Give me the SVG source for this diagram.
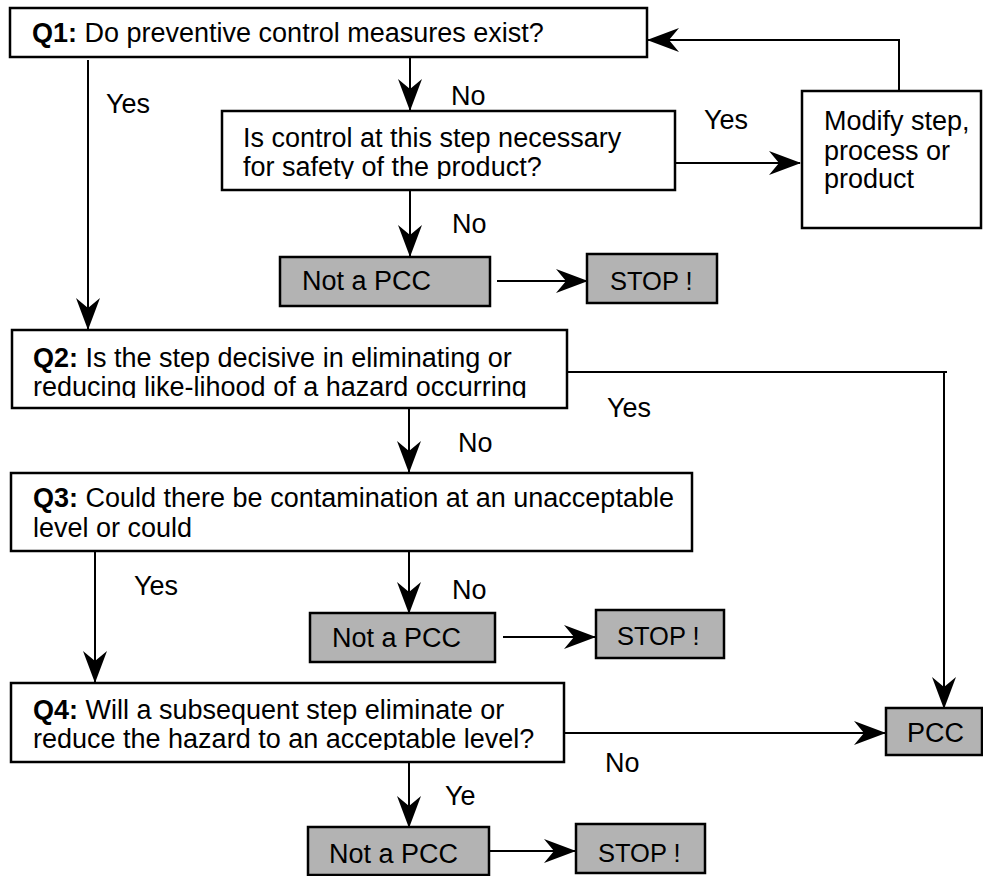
<svg xmlns="http://www.w3.org/2000/svg" width="983" height="876" viewBox="0 0 983 876">
<style>
  .box{fill:#ffffff;stroke:#000;stroke-width:2.5}
  .gray{fill:#b3b3b3;stroke:#000;stroke-width:2.5}
  .t{font-family:"Liberation Sans",Arial,sans-serif;font-size:27px;fill:#000}
  .s{font-size:25.5px}
  .b{font-weight:bold}
  .c{fill:none;stroke:#000;stroke-width:2}
</style>
<defs>
  <marker id="ah" markerUnits="userSpaceOnUse" viewBox="0 0 32 24" markerWidth="32" markerHeight="24" refX="31" refY="12" orient="auto">
    <path d="M0,0 L32,12 L0,24 L10,12 Z" fill="#000"/>
  </marker>
  <clipPath id="clipB2"><rect x="222" y="111" width="453" height="68"/></clipPath>
  <clipPath id="clipQ2"><rect x="12" y="330" width="555" height="68"/></clipPath>
  <clipPath id="clipQ4"><rect x="11" y="683" width="553" height="67"/></clipPath>
</defs>
<rect width="983" height="876" fill="#fff"/>

<g id="connectors">
  <path class="c" d="M410,57 V110" marker-end="url(#ah)"/>
  <path class="c" d="M88,60 V329" marker-end="url(#ah)"/>
  <path class="c" d="M675,163 H800" marker-end="url(#ah)"/>
  <path class="c" d="M899,91 V40 H648" marker-end="url(#ah)"/>
  <path class="c" d="M410,190 V256" marker-end="url(#ah)"/>
  <path class="c" d="M497,281 H587" marker-end="url(#ah)"/>
  <path class="c" d="M567,372 H947 M944,372 V708" marker-end="url(#ah)"/>
  <path class="c" d="M409,408 V472" marker-end="url(#ah)"/>
  <path class="c" d="M95,551 V682" marker-end="url(#ah)"/>
  <path class="c" d="M409,551 V613" marker-end="url(#ah)"/>
  <path class="c" d="M503,637 H595" marker-end="url(#ah)"/>
  <path class="c" d="M564,733 H885" marker-end="url(#ah)"/>
  <path class="c" d="M409,762 V827" marker-end="url(#ah)"/>
  <path class="c" d="M490,851 H575" marker-end="url(#ah)"/>
  <g class="t">
    <text x="106" y="113">Yes</text>
    <text x="451" y="105">No</text>
    <text x="704" y="129">Yes</text>
    <text x="452" y="233">No</text>
    <text x="607" y="417">Yes</text>
    <text x="458" y="452">No</text>
    <text x="134" y="595">Yes</text>
    <text x="452" y="599">No</text>
    <text x="605" y="772">No</text>
    <text x="445" y="805">Ye</text>
  </g>
</g>

<g id="q1">
  <rect class="box" x="10" y="8" width="637" height="49"/>
  <text class="t" x="32" y="42"><tspan class="b">Q1:</tspan> Do preventive control measures exist?</text>
</g>

<g id="control-necessary">
  <rect class="box" x="222" y="111" width="453" height="79"/>
  <g clip-path="url(#clipB2)">
    <text class="t" x="243" y="147">Is control at this step necessary</text>
    <text class="t" x="243" y="176">for safety of the product?</text>
  </g>
</g>

<g id="modify">
  <rect class="box" x="802" y="91" width="179" height="137"/>
  <text class="t" x="824" y="130">Modify step,</text>
  <text class="t" x="824" y="160">process or</text>
  <text class="t" x="824" y="188">product</text>
</g>

<g id="not-pcc-1">
  <rect class="gray" x="280" y="257" width="210" height="49"/>
  <text class="t" x="302" y="290">Not a PCC</text>
</g>

<g id="stop-1">
  <rect class="gray" x="587" y="254" width="130" height="49"/>
  <text class="t s" x="610" y="290">STOP !</text>
</g>

<g id="q2">
  <rect class="box" x="12" y="330" width="555" height="78"/>
  <g clip-path="url(#clipQ2)">
    <text class="t" x="33" y="367"><tspan class="b">Q2:</tspan> Is the step decisive in eliminating or</text>
    <text class="t" x="33" y="396">reducing like-lihood of a hazard occurring</text>
  </g>
</g>

<g id="q3">
  <rect class="box" x="11" y="473" width="681" height="78"/>
  <text class="t" x="33" y="507"><tspan class="b">Q3:</tspan> Could there be contamination at an unacceptable</text>
  <text class="t" x="33" y="537">level or could</text>
</g>

<g id="not-pcc-2">
  <rect class="gray" x="310" y="613" width="185" height="49"/>
  <text class="t" x="332" y="647">Not a PCC</text>
</g>

<g id="stop-2">
  <rect class="gray" x="596" y="610" width="128" height="48"/>
  <text class="t s" x="617" y="645">STOP !</text>
</g>

<g id="q4">
  <rect class="box" x="11" y="683" width="553" height="79"/>
  <g clip-path="url(#clipQ4)">
    <text class="t" x="33" y="719"><tspan class="b">Q4:</tspan> Will a subsequent step eliminate or</text>
    <text class="t" x="33" y="748">reduce the hazard to an acceptable level?</text>
  </g>
</g>

<g id="pcc">
  <rect class="gray" x="886" y="708" width="96" height="47"/>
  <text class="t" x="907" y="742">PCC</text>
</g>

<g id="not-pcc-3">
  <rect class="gray" x="308" y="827" width="181" height="48"/>
  <text class="t" x="329" y="863">Not a PCC</text>
</g>

<g id="stop-3">
  <rect class="gray" x="576" y="824" width="129" height="49"/>
  <text class="t s" x="598" y="862">STOP !</text>
</g>
</svg>
